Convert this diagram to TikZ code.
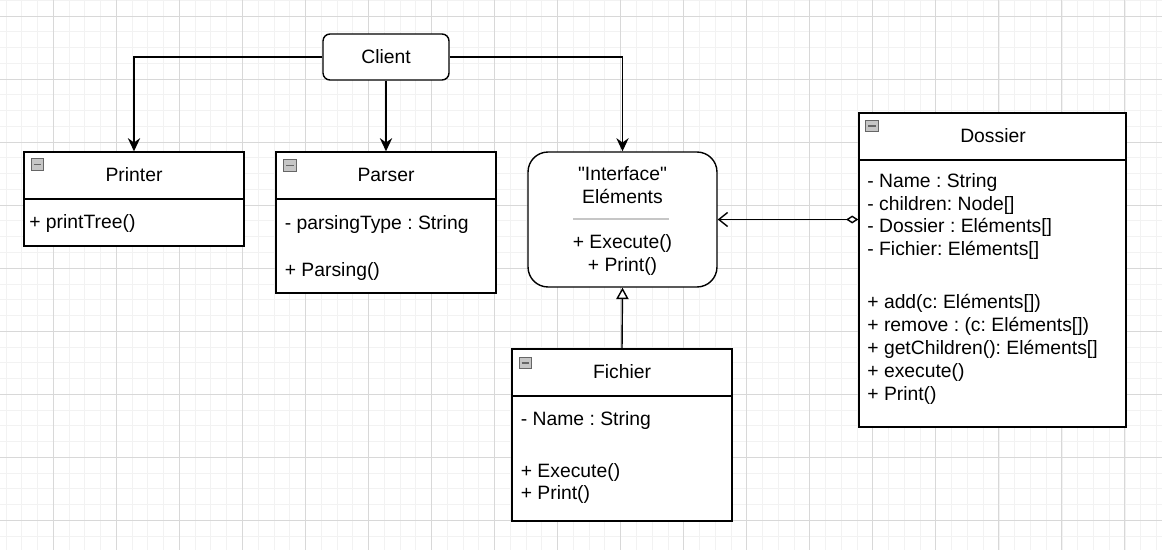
\documentclass[tikz,border=0pt]{standalone}
\usepackage{fontspec}
\setmainfont{Liberation Sans}[Ligatures=TeXOff]
\usetikzlibrary{arrows.meta}
\frenchspacing
\definecolor{gridminor}{HTML}{F2F2F2}
\definecolor{gridmajor}{HTML}{D8D8D8}
\tikzset{
  classbox/.style={draw, fill=white, line width=0.8pt, inner sep=0},
  roundbox/.style={classbox, rounded corners=#1},
  txt/.style={inner sep=0, text height=7.9pt, text depth=0pt, font=\fontsize{11}{13}\selectfont},
  togglebox/.style={draw=gray!80!black, fill=gray!45, line width=0.4pt,
    minimum width=0.25cm, minimum height=0.23cm, inner sep=0,
    path picture={\draw[line width=0.9pt] ([xshift=1.3pt]path picture bounding box.west)
      -- ([xshift=-1.3pt]path picture bounding box.east);}},
  assoc/.style={line width=0.8pt, -{Stealth[length=7.5pt,width=7pt,inset=2.5pt]}},
  aggr/.style={line width=0.8pt, {Diamond[open,length=7pt,width=4.5pt]}-{Straight Barb[length=5pt,width=8pt]}},
  realize/.style={line width=0.8pt, -{Triangle[open,fill=white,length=6.5pt,width=7pt]}}
}
\newcommand{\hdr}[2]{\draw[line width=0.8pt] (#1.west |- 0,#2) -- (#1.east |- 0,#2);}

\begin{document}
\begin{tikzpicture}[x=0.02cm, y=-0.02cm]
\useasboundingbox (0,0) rectangle (1162,550);
\fill[white] (0,0) rectangle (1162,550);
% grid
\foreach \i in {0,...,73} \draw[gridminor, line width=0.45pt] ({6+15.76*\i},0) -- ({6+15.76*\i},550);
\foreach \j in {0,...,34} \draw[gridminor, line width=0.45pt] (0,{0.24+15.76*\j}) -- (1162,{0.24+15.76*\j});
\foreach \i in {0,...,17} \draw[gridmajor, line width=0.45pt] ({53.3+63.03*\i},0) -- ({53.3+63.03*\i},550);
\foreach \j in {0,...,8} \draw[gridmajor, line width=0.45pt] (0,{16+63.03*\j}) -- (1162,{16+63.03*\j});

% boxes
\node[roundbox=0.14cm, txt, minimum width=2.52cm, minimum height=0.92cm] (client) at (386,57) {Client};
\node[classbox, minimum width=4.4cm, minimum height=1.88cm] (printer) at (134,199) {};
\node[classbox, minimum width=4.4cm, minimum height=2.82cm] (parser) at (386,222.5) {};
\node[roundbox=0.4cm, minimum width=3.78cm, minimum height=2.7cm] (iface) at (622.5,219.5) {};
\node[classbox, minimum width=5.34cm, minimum height=6.28cm] (dossier) at (992.5,270) {};
\node[classbox, minimum width=4.4cm, minimum height=3.44cm] (fichier) at (622,435) {};

\hdr{printer}{199}
\hdr{parser}{199}
\hdr{dossier}{160}
\hdr{fichier}{396}

\node[togglebox] (printer-tog) at (37.5,164.5) {};
\node[togglebox] (parser-tog) at (290,165.5) {};
\node[togglebox] (dossier-tog) at (872,126) {};
\node[togglebox] (fichier-tog) at (525.5,363) {};

% Printer
\node[txt] (printer-name) at (134,175) {Printer};
\node[txt, anchor=west] (printer-m1) at (29,222) {+ printTree()};

% Parser
\node[txt] (parser-name) at (386,175) {Parser};
\node[txt, anchor=west] (parser-a1) at (284.5,222.5) {- parsingType : String};
\node[txt, anchor=west] (parser-m1) at (284.5,269.5) {+ Parsing()};

% Interface
\node[txt] (iface-st) at (622.5,173.5) {"Interface"};
\node[txt] (iface-name) at (622.5,196.5) {Eléments};
\draw[gray!45, line width=1.2pt] (573,219.3) -- (669,219.3);
\node[txt] (iface-m1) at (622.5,242) {+ Execute()};
\node[txt] (iface-m2) at (622.5,265) {+ Print()};

% Dossier
\node[txt] (dossier-name) at (993,135.5) {Dossier};
\node[txt, anchor=west] (dossier-a1) at (867,181) {- Name : String};
\node[txt, anchor=west] (dossier-a2) at (867,203.5) {- children: Node[]};
\node[txt, anchor=west] (dossier-a3) at (867,226) {- Dossier : Eléments[]};
\node[txt, anchor=west] (dossier-a4) at (867,248.5) {- Fichier: Eléments[]};
\node[txt, anchor=west] (dossier-m1) at (867,302) {+ add(c: Eléments[])};
\node[txt, anchor=west] (dossier-m2) at (867,325) {+ remove : (c: Eléments[])};
\node[txt, anchor=west] (dossier-m3) at (867,348) {+ getChildren(): Eléments[]};
\node[txt, anchor=west] (dossier-m4) at (867,371) {+ execute()};
\node[txt, anchor=west] (dossier-m5) at (867,393.5) {+ Print()};

% Fichier
\node[txt] (fichier-name) at (622,371.5) {Fichier};
\node[txt, anchor=west] (fichier-a1) at (520.5,418.5) {- Name : String};
\node[txt, anchor=west] (fichier-m1) at (520.5,470.5) {+ Execute()};
\node[txt, anchor=west] (fichier-m2) at (520.5,493) {+ Print()};

% links
\draw[assoc] (client.west) -| (printer.north);
\draw[assoc] (client.south) -- (parser.north);
\draw[assoc] (client.east) -| (iface.north);
\draw[aggr] (dossier.west |- iface.east) -- (iface.east);
\draw[realize] (fichier.north) -- (iface.south);
\end{tikzpicture}
\end{document}
